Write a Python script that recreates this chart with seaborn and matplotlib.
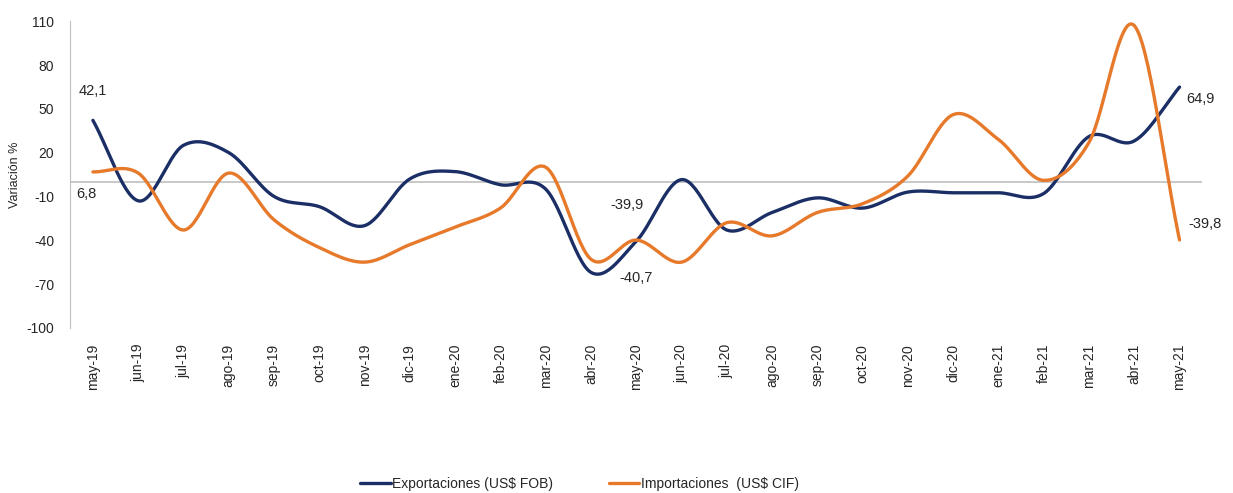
import numpy as np
import pandas as pd
import seaborn as sns
import matplotlib
matplotlib.use('Agg')
import matplotlib.pyplot as plt

# datos
meses = ["may-19", "jun-19", "jul-19", "ago-19", "sep-19", "oct-19", "nov-19", "dic-19",
         "ene-20", "feb-20", "mar-20", "abr-20", "may-20", "jun-20", "jul-20", "ago-20",
         "sep-20", "oct-20", "nov-20", "dic-20", "ene-21", "feb-21", "mar-21", "abr-21", "may-21"]
exportaciones = [42.1, -13, 25, 20, -10, -17, -30, 2, 7, -2, -5, -62, -40.7, 1.5, -33, -21,
                 -11, -18, -7, -7.5, -7.5, -8, 31, 28, 64.9]
importaciones = [6.8, 6, -33, 6, -26, -45, -55, -43, -31, -18, 10, -53, -39.9, -55, -28, -37,
                 -21, -15, 4, 46, 29, 1, 27, 107, -39.8]
yticks = [-100, -70, -40, -10, 20, 50, 80, 110]

azul = "#1B2F66"
naranja = "#E7792B"


def suavizar(valores, n=30):
    # curva tipo Catmull-Rom, como las lineas suavizadas de Excel
    p = np.array(valores, dtype=float)
    p = np.concatenate([[2 * p[0] - p[1]], p, [2 * p[-1] - p[-2]]])
    xs, ys = [], []
    for i in range(1, len(p) - 2):
        t = np.linspace(0, 1, n, endpoint=False)
        p0, p1, p2, p3 = p[i - 1], p[i], p[i + 1], p[i + 2]
        y = 0.5 * (2 * p1 + (-p0 + p2) * t + (2 * p0 - 5 * p1 + 4 * p2 - p3) * t ** 2
                   + (-p0 + 3 * p1 - 3 * p2 + p3) * t ** 3)
        xs.extend(i - 1 + t)
        ys.extend(y)
    xs.append(len(valores) - 1)
    ys.append(valores[-1])
    return np.array(xs), np.array(ys)


sns.set_style("white")
plt.rcParams['font.family'] = ['Liberation Sans', 'DejaVu Sans']

fig = plt.figure(figsize=(12.33, 4.93), dpi=100)
ax = fig.add_axes([0.057, 0.335, 0.918, 0.622])

ax.axhline(0, color="#BFBFBF", lw=1.2, zorder=1)

for nombre, valores, color in [("Exportaciones (US$ FOB)", exportaciones, azul),
                               ("Importaciones  (US$ CIF)", importaciones, naranja)]:
    xs, ys = suavizar(valores)
    df = pd.DataFrame({"x": xs, "y": ys})
    sns.lineplot(data=df, x="x", y="y", ax=ax, color=color, lw=2.4, label=nombre,
                 sort=False, zorder=3)

ax.set_xlim(-0.5, len(meses) - 0.5)
ax.set_ylim(-100, 110)
ax.set_yticks(yticks)
ax.set_yticklabels([str(v) for v in yticks], fontsize=10)
ax.set_xticks(range(len(meses)))
ax.set_xticklabels(meses, rotation=90, fontsize=10)
ax.tick_params(axis="x", pad=8)
ax.tick_params(axis="y", pad=8)
ax.set_xlabel("")
ax.set_ylabel("Variación %", fontsize=9)

for lado in ["top", "right", "bottom"]:
    ax.spines[lado].set_visible(False)
ax.spines["left"].set_color("#BFBFBF")

# etiquetas de valores
ax.text(0, 62, "42,1", fontsize=10.5, ha="center", va="center")
ax.text(-0.15, -8, "6,8", fontsize=10.5, ha="center", va="center")
ax.text(11.8, -16, "-39,9", fontsize=10.5, ha="center", va="center")
ax.text(12.0, -66, "-40,7", fontsize=10.5, ha="center", va="center")
ax.text(24.15, 57, "64,9", fontsize=10.5, ha="left", va="center")
ax.text(24.2, -29, "-39,8", fontsize=10.5, ha="left", va="center")

ax.legend(loc="center", bbox_to_anchor=(0.45, -0.51), ncol=2, frameon=False,
          fontsize=10, handlelength=2.2, handletextpad=0.1, columnspacing=4)

fig.savefig("out.png", dpi=100)
